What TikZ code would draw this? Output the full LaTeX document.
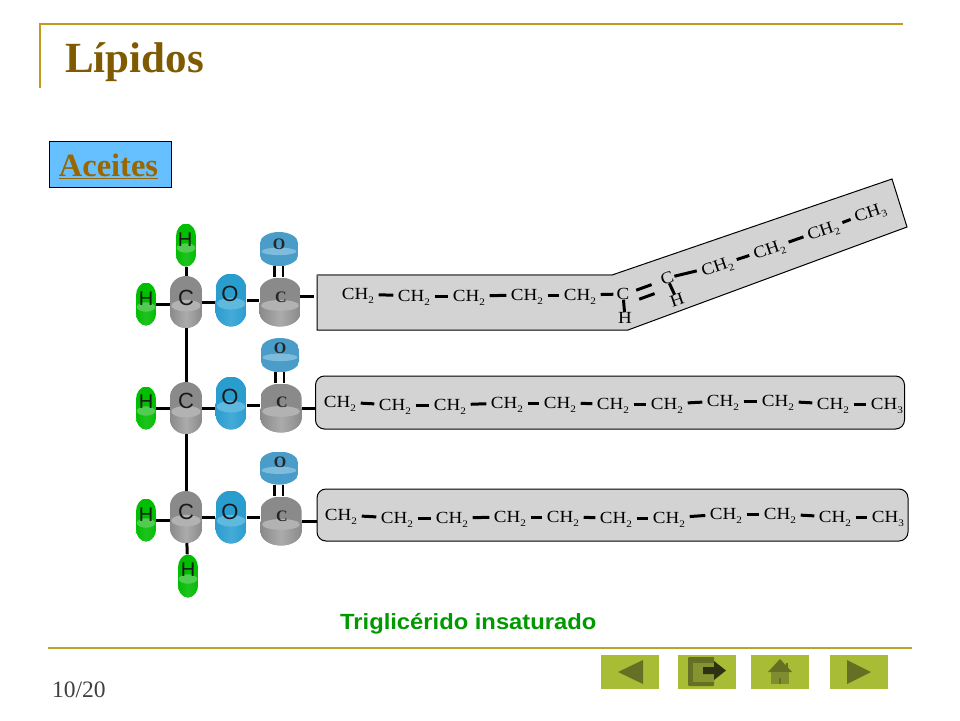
\documentclass[tikz,border=0pt]{standalone}
\usepackage{fontspec}
\setmainfont{Liberation Serif}
\newfontfamily\chemfont[FakeStretch=1.12]{Liberation Serif}
\newfontfamily\sansf{Liberation Sans}
\newfontfamily\sanswide[FakeStretch=1.08]{Liberation Sans}
\usetikzlibrary{calc,shapes.geometric}
\definecolor{gd}{HTML}{8A8A8A}\definecolor{gm}{HTML}{ABABAB}\definecolor{gl}{HTML}{B2B2B2}
\definecolor{bd}{HTML}{2A9DCF}\definecolor{bm}{HTML}{45AAD8}\definecolor{bl}{HTML}{5FB8DE}
\definecolor{sd}{HTML}{4A9CC9}\definecolor{sm}{HTML}{4A9CC9}\definecolor{sl}{HTML}{7DBCDC}
\definecolor{hd}{HTML}{00BE00}\definecolor{hm}{HTML}{20C220}\definecolor{hl}{HTML}{50CC50}
\definecolor{gold}{HTML}{C49A1E}\definecolor{goldb}{HTML}{BFA22B}\definecolor{brownt}{HTML}{7F5A00}\definecolor{brownu}{HTML}{996600}
\definecolor{skyb}{HTML}{66BFFF}\definecolor{tgreen}{HTML}{009A00}
\definecolor{btn}{HTML}{A9BC35}\definecolor{btnd}{HTML}{657024}\definecolor{btnm}{HTML}{7F8C30}\definecolor{boxg}{HTML}{D3D3D3}
\newcommand\subn[1]{\raisebox{-3.5pt}{\fontsize{10}{10}\selectfont #1}}
\newcommand\chtwo{CH\subn{2}}
\newcommand\chthree{CH\subn{3}}
% name, x, y, width, height, vertical radius of the end arcs, colour prefix
\newcommand\atom[7]{%
  \pgfmathsetmacro\aL{#2-#4/2}\pgfmathsetmacro\aR{#2+#4/2}%
  \pgfmathsetmacro\aT{#3-#5/2}\pgfmathsetmacro\aB{#3+#5/2}%
  \pgfmathsetmacro\aTk{\aT+#6*0.45}\pgfmathsetmacro\aBk{\aB-#6*0.45}%
  \pgfmathsetmacro\aTr{\aT+#6}\pgfmathsetmacro\aBr{\aB-#6}%
  \pgfmathsetmacro\aXl{#2-#4*0.275}\pgfmathsetmacro\aXr{#2+#4*0.275}%
  \pgfmathsetmacro\lensy{#3+#5*0.07}\pgfmathsetmacro\lensrx{#4*0.46}\pgfmathsetmacro\lensry{#5*0.11}%
  \begin{scope}
    \clip (\aL,\aTr) .. controls (\aL,\aTk) and (\aXl,\aT) .. (#2,\aT)
      .. controls (\aXr,\aT) and (\aR,\aTk) .. (\aR,\aTr) -- (\aR,\aBr)
      .. controls (\aR,\aBk) and (\aXr,\aB) .. (#2,\aB)
      .. controls (\aXl,\aB) and (\aL,\aBk) .. (\aL,\aBr) -- cycle;
    \fill[#7d] (\aL,\aT) rectangle (\aR,\aB);
    \shade[left color=#7d,right color=#7d,middle color=#7m] (\aL,#3) rectangle (\aR,\aB);
    \fill[#7l] (#2,\lensy) ellipse [x radius=\lensrx pt,y radius=\lensry pt];
  \end{scope}
  \node[rectangle,minimum width=#4 pt,minimum height=#5 pt,inner sep=0pt] (#1) at (#2,#3) {};
}
\tikzset{
  biglab/.style={font=\sansf\fontsize{22}{22}\selectfont,inner sep=0pt,text=black!90},
  hlab/.style={font=\sansf\fontsize{20}{20}\selectfont,inner sep=0pt,text=black!90},
  smalllab/.style={font=\bfseries\fontsize{16}{16}\selectfont,inner sep=0pt,text=black!85},
  ch/.style={font=\chemfont\fontsize{17}{17}\selectfont,inner xsep=4.5pt,inner ysep=0pt,text height=11pt,text depth=0pt,text=black},
  bond/.style={draw=black,line width=3pt},
  thin bond/.style={draw=black,line width=3pt},
  boxshape/.style={draw=black,line width=1pt,fill=boxg},
  btnbox/.style={rectangle,fill=btn,minimum width=58pt,minimum height=34pt,inner sep=0pt},
}
\begin{document}
\begin{tikzpicture}[x=1pt,y=-1pt]
\useasboundingbox (0,0) rectangle (960,720);
\fill[white] (0,0) rectangle (960,720);
% frame
\draw[gold,line width=2.8pt] (40,88) -- (40,24) -- (903,24);
\draw[goldb,line width=2.6pt] (48,648) -- (912,648);
\node[anchor=base west,inner sep=0pt,text=brownt,font=\bfseries\fontsize{43}{43}\selectfont] (title) at (65,72) {Lípidos};
\node[draw=black,line width=1pt,fill=skyb,minimum width=122pt,minimum height=46pt,inner sep=0pt] (abox) at (110,164) {};
\node[anchor=base,inner sep=0pt,text=brownu,font=\bfseries\fontsize{32.5}{32.5}\selectfont] (atxt) at (108.5,176) {\underline{Aceites}};
\node[anchor=base west,inner sep=0pt,text=tgreen,font=\sanswide\bfseries\fontsize{22}{22}\selectfont] (cap) at (340,629) {Triglicérido insaturado};
\node[anchor=base west,inner sep=0pt,text=black!75,font=\fontsize{23.5}{23.5}\selectfont] (pg) at (52,697) {10/20};
% boxes
\node[boxshape,rectangle,rounded corners=9pt,minimum width=589pt,minimum height=53pt,inner sep=0pt] (box2) at (610,402.5) {};
\node[boxshape,rectangle,rounded corners=9pt,minimum width=591pt,minimum height=52pt,inner sep=0pt] (box3) at (612.5,515) {};
\draw[boxshape] (317,275) -- (612,275) -- (892,179) -- (907,227) -- (628,330) -- (317,330) -- cycle;
\draw[black!55,line width=1.6pt] (317,275) -- (612,275);
% atoms
\atom{g1}{186}{302}{32}{52}{15}{g}
\atom{g2}{186}{408}{32}{52}{15}{g}
\atom{g3}{186}{517}{32}{52}{15}{g}
\atom{o1}{231}{300}{31}{53}{16}{b}
\atom{o2}{231}{403}{31}{53}{16}{b}
\atom{o3}{231}{517}{31}{53}{16}{b}
\atom{c1}{280}{302}{41}{49}{14}{g}
\atom{c2}{281}{408}{41}{49}{14}{g}
\atom{c3}{281}{521}{41}{49}{14}{g}
\atom{s1}{279}{249}{38}{34}{11}{s}
\atom{s2}{280}{355}{38}{34}{11}{s}
\atom{s3}{279}{468}{38}{33}{11}{s}
\atom{ht}{186}{245}{20}{43}{13}{h}
\atom{h1}{146}{304}{20}{43}{13}{h}
\atom{h2}{146}{408}{20}{43}{13}{h}
\atom{h3}{146}{520}{20}{43}{13}{h}
\atom{hb}{188}{576}{20}{43}{13}{h}
% bonds of the backbone
\draw[thin bond] (ht) -- (g1);
\draw[thin bond] (g1) -- (g2);
\draw[thin bond] (g2) -- (g3);
\draw[thin bond] (g3) -- (hb);
\draw[thin bond] (h1.east) -- (h1.east -| g1.west);
\draw[thin bond] (h2.east) -- (h2.east -| g2.west);
\draw[thin bond] (h3.east) -- (h3.east -| g3.west);
\draw[thin bond] (g1.east) -- (g1.east -| o1.west);
\draw[thin bond] (g2.east) -- (g2.east -| o2.west);
\draw[thin bond] (g3.east) -- (g3.east -| o3.west);
\draw[thin bond] (o1.east) -- (o1.east -| c1.west);
\draw[thin bond] ([yshift=-2pt]o2.east) -- ([yshift=-2pt]o2.east -| c2.west);
\draw[thin bond] (o3.east) -- (o3.east -| c3.west);
\foreach \i in {1,2,3} {
  \draw[line width=2.6pt] ([xshift=-4.5pt]s\i.south) -- ([xshift=-4.5pt]s\i.south |- c\i.north);
  \draw[line width=2.6pt] ([xshift=4pt]s\i.south) -- ([xshift=4pt]s\i.south |- c\i.north);
}
\coordinate (c1e) at (300,296);
\coordinate (box1e) at (314,296);
\draw[thin bond] (c1e) -- (box1e);
\draw[thin bond] (c2.east) -- (c2.east -| box2.west);
\draw[thin bond] (c3.east) -- (c3.east -| box3.west);
% atom labels
\foreach \n/\x/\y in {lg1/186/298,lg2/186/401,lg3/186/512} \node[biglab] (\n) at (\x,\y) {C};
\foreach \n/\x/\y in {lo1/230/294,lo2/230/397,lo3/230/512} \node[biglab] (\n) at (\x,\y) {O};
\foreach \n/\x/\y in {lht/185/240,lh1/146/299,lh2/146/402,lh3/146/515,lhb/188/570} \node[hlab] (\n) at (\x,\y) {H};
\foreach \n/\x/\y in {lc1/281/297,lc2/282/402,lc3/282/516} \node[smalllab] (\n) at (\x,\y) {C};
\foreach \n/\x/\y in {ls1/279/244,ls2/280/348,ls3/280/462} \node[smalllab] (\n) at (\x,\y) {O};
% chain 1
\foreach \n/\x/\y in {a1/358/294,a2/414/296,a3/469/296,a4/527/295,a5/580/295} \node[ch] (\n) at (\x,\y) {\chtwo};
\node[ch,inner xsep=3pt] (ca) at (623,294) {C};
\node[ch,inner xsep=2pt] (ha) at (625,318) {H};
\node[ch,rotate=19,inner xsep=1pt] (cb) at (667,278) {C};
\node[ch,rotate=19,inner xsep=1pt] (hb2) at (677,300) {H};
\node[ch,rotate=19] (b1) at (717,266) {\chtwo};
\node[ch,rotate=19] (b2) at (769,249) {\chtwo};
\node[ch,rotate=19] (b3) at (823,230) {\chtwo};
\node[ch,rotate=19] (b4) at (870,212) {\chthree};
\draw[bond] (a1) -- (a2);\draw[bond] (a2) -- (a3);\draw[bond] (a3) -- (a4);\draw[bond] (a4) -- (a5);\draw[bond] (a5) -- (ca);
\draw[thin bond] (ca) -- (ha);
\draw[thin bond] (cb) -- (hb2);
\draw[bond] (cb) -- (b1);\draw[bond] (b1) -- (b2);\draw[bond] (b2) -- (b3);\draw[bond] (b3) -- (b4);
\draw[bond] ($(ca)!.3!(cb)+(0,1)$) -- ($(ca)!.65!(cb)+(0,1)$);
\draw[bond] ($(ca)!.3!(cb)+(3,10)$) -- ($(ca)!.65!(cb)+(3,10)$);
% chain 2
\foreach \n/\x/\y in {d1/340/402,d2/395/405,d3/450/405,d4/507/403,d5/560/403,d6/613/404,d7/667/404,d8/723/401,d9/778/401,d10/833/404} \node[ch] (\n) at (\x,\y) {\chtwo};
\node[ch] (d11) at (887,404) {\chthree};
\foreach \a/\b in {d1/d2,d2/d3,d3/d4,d4/d5,d5/d6,d6/d7,d7/d8,d8/d9,d9/d10,d10/d11} \draw[bond] (\a) -- (\b);
% chain 3
\foreach \n/\x/\y in {e1/341/515,e2/397/518,e3/452/518,e4/510/517,e5/563/517,e6/616/518,e7/669/518,e8/726/514,e9/780/514,e10/835/517} \node[ch] (\n) at (\x,\y) {\chtwo};
\node[ch] (e11) at (888,517) {\chthree};
\foreach \a/\b in {e1/e2,e2/e3,e3/e4,e4/e5,e5/e6,e6/e7,e7/e8,e8/e9,e9/e10,e10/e11} \draw[bond] (\a) -- (\b);
% buttons
\node[btnbox] (btn1) at (630,672) {};
\node[btnbox] (btn2) at (707,672) {};
\node[btnbox] (btn3) at (780,672) {};
\node[btnbox] (btn4) at (859,672) {};
\fill[btnd] (618,672) -- (643,660) -- (643,684) -- cycle;
\fill[btnd] (871,672) -- (847,660) -- (847,684) -- cycle;
\fill[btnd,rounded corners=1pt] (688,657) rectangle (714,686);
\fill[btnm!85!btn] (693,663) rectangle (714,682);
\fill[black!55!btnd] (703,667) -- (714,667) -- (714,661) -- (726,670.5) -- (714,680) -- (714,674) -- (703,674) -- cycle;
\fill[btnd] (768,672) -- (780,659) -- (792,672) -- cycle;
\fill[btnd] (786,663) rectangle (788,668);
\fill[btnm] (771,672) rectangle (789,684);
\fill[btnd] (779,678) rectangle (781,684);
\end{tikzpicture}
\end{document}
